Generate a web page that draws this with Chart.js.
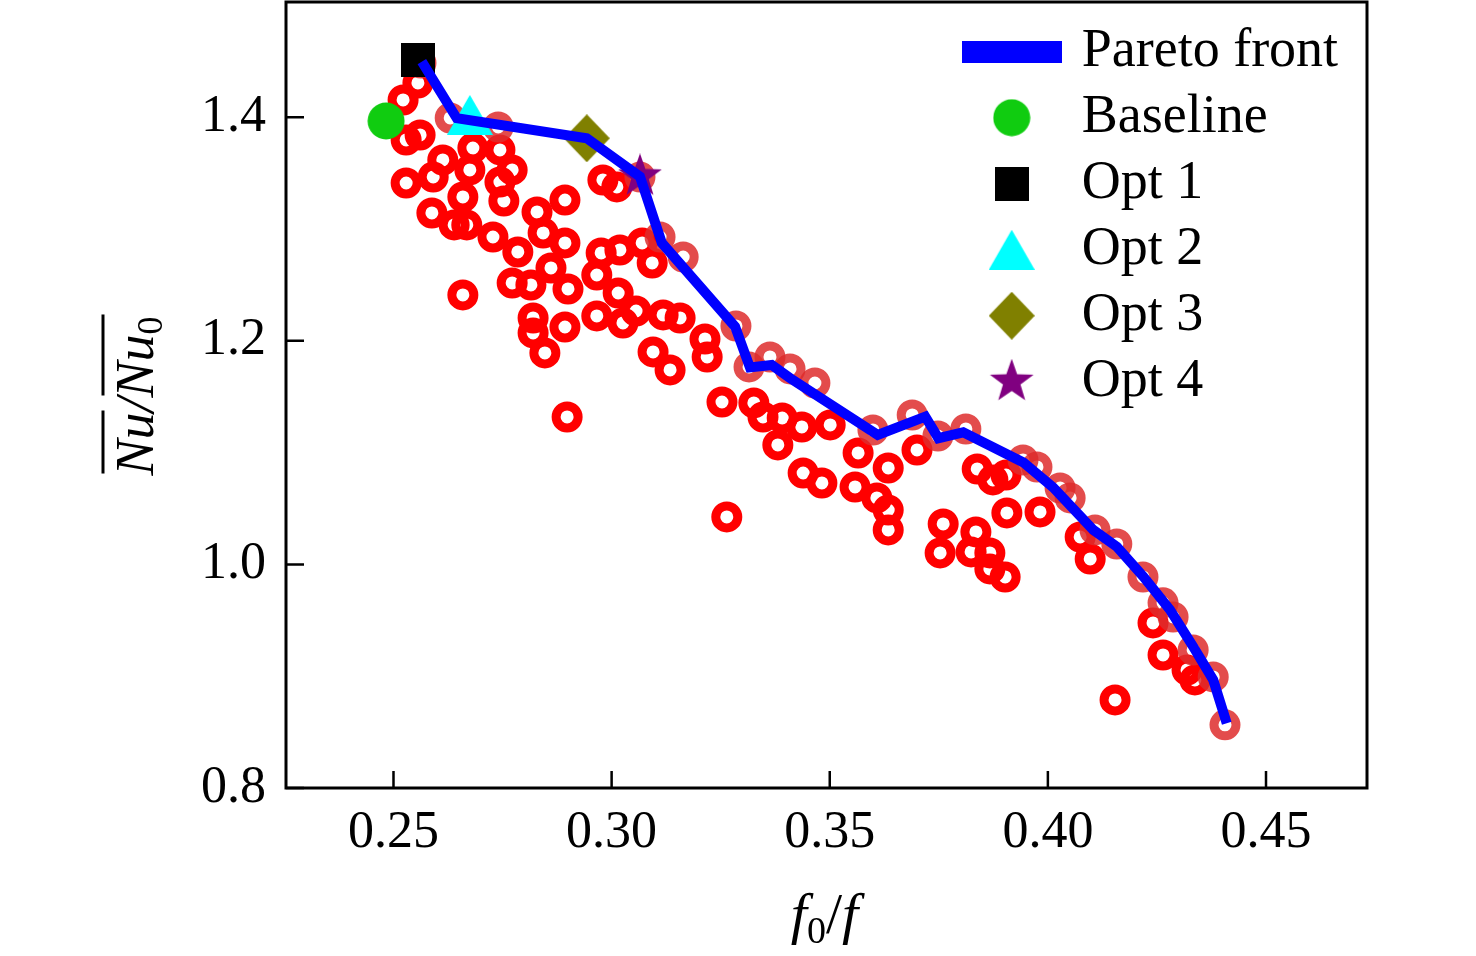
<!DOCTYPE html>
<html><head><meta charset="utf-8">
<script src="https://cdn.jsdelivr.net/npm/chart.js@4.4.0/dist/chart.umd.min.js"></script>
<style>html,body{margin:0;padding:0;background:#fff;}canvas{display:block;}</style>
</head><body>
<canvas id="c" width="1476" height="956" style="width:1476px;height:956px"></canvas>
<script>
// ---------- data ----------
const xTickValues = [0.25, 0.30, 0.35, 0.40, 0.45];
const yTickValues = [0.8, 1.0, 1.2, 1.4];

// all evaluated designs (red hollow circles)
const sampleX = [0.2556,0.2522,0.2561,0.2529,0.2682,0.2613,0.2529,0.2591,0.2675,0.2744,0.2772,0.2659,0.2588,0.2639,0.2668,0.2753,0.2829,0.2893,0.2728,0.2785,0.2843,0.2893,0.2980,0.3012,0.2861,0.2772,0.2815,0.2900,0.2966,0.2976,0.3019,0.3070,0.3093,0.2659,0.2820,0.2820,0.2847,0.2893,0.2966,0.3015,0.3026,0.3056,0.3118,0.3157,0.3214,0.3219,0.3095,0.3134,0.2898,0.3253,0.3326,0.3347,0.3391,0.3436,0.3501,0.3381,0.3439,0.3482,0.3264,0.3565,0.3634,0.3558,0.3608,0.3634,0.3634,0.3700,0.3838,0.3874,0.3904,0.3906,0.3982,0.3760,0.3753,0.3835,0.3824,0.3867,0.3867,0.3902,0.4074,0.4097,0.4241,0.4264,0.4319,0.4337,0.4154,0.2744];
const sampleY = [1.4307,1.4155,1.3842,1.3797,1.3725,1.3618,1.3412,1.3466,1.3529,1.3421,1.3529,1.3287,1.3144,1.3037,1.3037,1.3251,1.3153,1.3260,1.2929,1.2795,1.2965,1.2876,1.3439,1.3377,1.2652,1.2518,1.2500,1.2464,1.2589,1.2786,1.2813,1.2876,1.2697,1.2411,1.2205,1.2071,1.1892,1.2124,1.2223,1.2428,1.2160,1.2267,1.2232,1.2205,1.2017,1.1856,1.1901,1.1740,1.1319,1.1453,1.1445,1.1319,1.1310,1.1230,1.1248,1.1069,1.0818,1.0729,1.0425,1.0997,1.0863,1.0693,1.0595,1.0487,1.0309,1.1024,1.0854,1.0756,1.0800,1.0461,1.0470,1.0362,1.0103,1.0291,1.0112,1.0103,0.9960,0.9888,1.0246,1.0049,0.9477,0.9190,0.9056,0.8967,0.8788,1.3708];

// non-dominated designs (lighter red circles)
const paretoPtX = [0.2563,0.2630,0.2740,0.2944,0.3065,0.3111,0.3164,0.3285,0.3315,0.3363,0.3409,0.3466,0.3599,0.3689,0.3748,0.3812,0.3943,0.3975,0.4028,0.4051,0.4108,0.4158,0.4218,0.4264,0.4287,0.4333,0.4379,0.4406];
const paretoPtY = [1.4486,1.3994,1.3913,1.3815,1.3466,1.2929,1.2750,1.2133,1.1767,1.1856,1.1749,1.1623,1.1203,1.1337,1.1149,1.1212,1.0935,1.0872,1.0684,1.0595,1.0309,1.0183,0.9888,0.9656,0.9530,0.9235,0.8994,0.8565];

// Pareto front polyline
const frontX = [0.2565,0.2645,0.2943,0.3065,0.3115,0.3283,0.3317,0.3367,0.3409,0.3610,0.3719,0.3749,0.3806,0.3944,0.4012,0.4104,0.4158,0.4219,0.4280,0.4333,0.4379,0.4410];
const frontY = [1.4497,1.3991,1.3812,1.3469,1.2876,1.2127,1.1762,1.1784,1.1666,1.1158,1.1322,1.1129,1.1181,1.0912,1.0689,1.0309,1.0159,0.9891,0.9593,0.9265,0.8967,0.8580];

const baselinePt = [0.2483, 1.3967];
const opt1Pt = [0.2557, 1.4512];
const opt2Pt = [0.2675, 1.4021];
const opt3Pt = [0.2943, 1.3812];
const opt4Pt = [0.3065, 1.3471];

const legendLabels = ['Pareto front', 'Baseline', 'Opt 1', 'Opt 2', 'Opt 3', 'Opt 4'];

// ---------- marker images ----------
function mk(w, h, draw) {
  const c = document.createElement('canvas');
  c.width = w; c.height = h;
  const g = c.getContext('2d');
  draw(g, w, h);
  return c;
}
const imgLine = mk(100, 22, (g, w, h) => { g.fillStyle = '#0000ff'; g.fillRect(0, 0, w, h); });
const imgCircle = mk(38, 38, (g, w, h) => { g.fillStyle = '#10cc10'; g.beginPath(); g.arc(w/2, h/2, 18.5, 0, Math.PI*2); g.fill(); });
const imgSquare = mk(34, 34, (g, w, h) => { g.fillStyle = '#000000'; g.fillRect(0, 0, w, h); });
const imgTri = mk(46, 40, (g, w, h) => { g.fillStyle = '#00ffff'; g.beginPath(); g.moveTo(w/2, 0); g.lineTo(w, h); g.lineTo(0, h); g.closePath(); g.fill(); });
const imgDiamond = mk(46, 48, (g, w, h) => { g.fillStyle = '#808000'; g.beginPath(); g.moveTo(w/2, 0); g.lineTo(w, h/2); g.lineTo(w/2, h); g.lineTo(0, h/2); g.closePath(); g.fill(); });
const imgStar = mk(46, 46, (g, w, h) => {
  g.fillStyle = '#800080'; g.beginPath();
  const R = 23, r = 9.2, cx = w/2, cy = h/2;
  for (let i = 0; i < 10; i++) {
    const rad = (i % 2 === 0) ? R : r;
    const a = -Math.PI/2 + i * Math.PI/5;
    const px = cx + rad*Math.cos(a), py = cy + rad*Math.sin(a);
    if (i === 0) g.moveTo(px, py); else g.lineTo(px, py);
  }
  g.closePath(); g.fill();
});
const legendImgs = [imgLine, imgCircle, imgSquare, imgTri, imgDiamond, imgStar];

const zip = (xs, ys) => xs.map((x, i) => ({x: x, y: ys[i]}));
const pt = p => [{x: p[0], y: p[1]}];

const FAM = "'Liberation Serif', 'Times New Roman', serif";

// ---------- plugins ----------
const framePlugin = {
  id: 'frame',
  afterLayout(chart) {
    const lg = chart.legend;
    if (lg) {
      lg.left = 956.7; lg.top = 12.7; lg.width = 418; lg.height = 440;
      lg.right = lg.left + lg.width; lg.bottom = lg.top + lg.height;
    }
  },
  afterDraw(chart) {
    const ctx = chart.ctx, ca = chart.chartArea;
    const xs = chart.scales.x, ys = chart.scales.y;
    ctx.save();
    ctx.strokeStyle = '#000'; ctx.lineWidth = 3;
    ctx.strokeRect(ca.left, ca.top, ca.right - ca.left, ca.bottom - ca.top);
    ctx.lineWidth = 2.5;
    ctx.beginPath();
    xs.ticks.forEach(t => { const px = xs.getPixelForValue(t.value); ctx.moveTo(px, ca.bottom); ctx.lineTo(px, ca.bottom - 17); });
    ys.ticks.forEach(t => { const py = ys.getPixelForValue(t.value); ctx.moveTo(ca.left, py); ctx.lineTo(ca.left + 18, py); });
    ctx.stroke();

    ctx.fillStyle = '#000';
    ctx.textBaseline = 'alphabetic';
    ctx.textAlign = 'left';
    // x axis title: f0/f
    const xParts = [
      {t: 'f', f: 'italic 58px ' + FAM, dy: 0},
      {t: '0', f: '38px ' + FAM, dy: 10},
      {t: '/', f: '58px ' + FAM, dy: 0},
      {t: 'f', f: 'italic 58px ' + FAM, dy: 0}
    ];
    let tw = 0;
    xParts.forEach(p => { ctx.font = p.f; p.w = ctx.measureText(p.t).width; tw += p.w; });
    let cx = (ca.left + ca.right) / 2 - tw / 2 - 2;
    xParts.forEach(p => { ctx.font = p.f; ctx.fillText(p.t, cx, 933 + p.dy); cx += p.w; });

    // y axis title: overline Nu / overline Nu0
    ctx.save();
    ctx.translate(153, 396);
    ctx.rotate(-Math.PI / 2);
    const yParts = [
      {t: 'Nu', f: 'italic 54px ' + FAM, dy: 0, ol: true},
      {t: '/', f: 'italic 54px ' + FAM, dy: 0},
      {t: 'Nu', f: 'italic 54px ' + FAM, dy: 0, ol: true, olExtra: true},
      {t: '0', f: '36px ' + FAM, dy: 9}
    ];
    tw = 0;
    yParts.forEach(p => { ctx.font = p.f; p.w = ctx.measureText(p.t).width; tw += p.w; });
    cx = -tw / 2;
    ctx.lineWidth = 3;
    yParts.forEach((p, i) => {
      ctx.font = p.f; ctx.fillText(p.t, cx, p.dy);
      if (p.ol) {
        const extra = p.olExtra ? yParts[i + 1].w : 0;
        ctx.beginPath(); ctx.moveTo(cx + 2, -50); ctx.lineTo(cx + p.w + extra + 2, -50); ctx.stroke();
      }
      cx += p.w;
    });
    ctx.restore();
    ctx.restore();
  }
};

// ---------- chart ----------
new Chart(document.getElementById('c'), {
  type: 'scatter',
  data: {
    datasets: [
      {label: legendLabels[0], data: zip(frontX, frontY), showLine: true, pointRadius: 0, pointHoverRadius: 0,
       borderColor: '#0000ff', borderWidth: 10, borderJoinStyle: 'miter', tension: 0, fill: false, order: 0},
      {label: legendLabels[1], data: pt(baselinePt), pointStyle: imgCircle, pointRadius: 19, order: 1},
      {label: legendLabels[2], data: pt(opt1Pt), pointStyle: imgSquare, pointRadius: 17, order: 1},
      {label: legendLabels[3], data: pt(opt2Pt), pointStyle: imgTri, pointRadius: 22, order: 1},
      {label: legendLabels[4], data: pt(opt3Pt), pointStyle: imgDiamond, pointRadius: 24, order: 1},
      {label: legendLabels[5], data: pt(opt4Pt), pointStyle: imgStar, pointRadius: 23, order: 1},
      {label: 'Pareto designs', data: zip(paretoPtX, paretoPtY), pointRadius: 11, pointHoverRadius: 11,
       borderWidth: 9, pointHoverBorderWidth: 9, borderColor: 'rgba(222,45,45,0.85)', backgroundColor: 'rgba(0,0,0,0)', order: 2},
      {label: 'Designs', data: zip(sampleX, sampleY), pointRadius: 11, pointHoverRadius: 11,
       borderWidth: 9, pointHoverBorderWidth: 9, borderColor: '#ff0000', backgroundColor: 'rgba(0,0,0,0)', order: 3}
    ]
  },
  options: {
    responsive: false,
    devicePixelRatio: 1,
    animation: false,
    events: [],
    layout: {autoPadding: false, padding: {left: 0, right: 109, top: 2, bottom: 0}},
    scales: {
      x: {
        type: 'linear', min: 0.22536, max: 0.47315,
        afterBuildTicks: s => { s.ticks = xTickValues.map(v => ({value: v})); },
        afterFit: s => { s.height = 168; s.paddingLeft = 0; s.paddingRight = 0; },
        grid: {display: false, drawTicks: false},
        border: {display: false},
        ticks: {padding: 14, color: '#000', font: {family: FAM, size: 52}, maxRotation: 0, autoSkip: false,
                callback: v => Number(v).toFixed(2)}
      },
      y: {
        type: 'linear', min: 0.8, max: 1.5031,
        afterBuildTicks: s => { s.ticks = yTickValues.map(v => ({value: v})); },
        afterFit: s => { s.width = 286; s.paddingTop = 0; s.paddingBottom = 0; },
        grid: {display: false, drawTicks: false},
        border: {display: false},
        ticks: {padding: 20, color: '#000', font: {family: FAM, size: 52}, autoSkip: false,
                callback: v => Number(v).toFixed(1)}
      }
    },
    plugins: {
      tooltip: {enabled: false},
      legend: {
        position: 'chartArea',
        align: 'start',
        labels: {
          usePointStyle: true,
          pointStyleWidth: 86,
          padding: 12,
          color: '#000',
          font: {family: FAM, size: 54},
          generateLabels: chart => legendLabels.map((t, i) => ({
            text: t, pointStyle: legendImgs[i], fillStyle: '#000', strokeStyle: '#000',
            lineWidth: 0, hidden: false, datasetIndex: i, fontColor: '#000'
          }))
        }
      }
    }
  },
  plugins: [framePlugin]
});
</script>
</body></html>
